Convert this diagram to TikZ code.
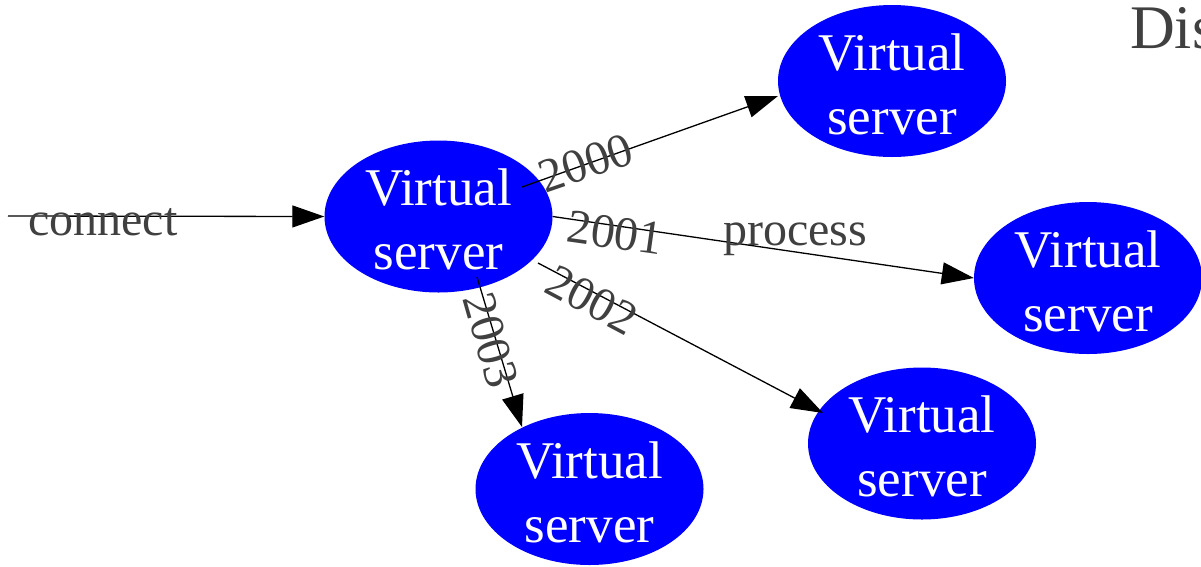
\documentclass[tikz,border=0pt]{standalone}
\usepackage{fontspec}
\setmainfont{Liberation Serif}
\usetikzlibrary{arrows.meta,shapes.geometric,calc}
\definecolor{lblgray}{HTML}{404040}
\tikzset{
  vs/.style={ellipse, fill={rgb,255:red,0;green,0;blue,255}, draw=none, inner sep=0pt,
    minimum width=228pt, minimum height=152pt, text=white, align=center,
    text height=106pt, text depth=0pt,
    font=\fontsize{53}{64}\selectfont},
  conn/.style={line width=1.3pt, -{Triangle[length=32pt,width=22pt]}},
  lbl/.style={text=lblgray, inner sep=0pt, font=\fontsize{48}{58}\selectfont},
}
\begin{document}
\begin{tikzpicture}[x=1pt,y=-1pt]
\useasboundingbox (0,0) rectangle (1201,566);
\clip (0,0) rectangle (1201,566);
\node[vs] (c) at (438.5,216.5) {Virtual\\server};
\node[vs] (t1) at (892,81) {Virtual\\server};
\node[vs] (t2) at (1088,278) {Virtual\\server};
\node[vs] (t3) at (922,443.5) {Virtual\\server};
\node[vs] (t4) at (589.5,489) {Virtual\\server};
\coordinate (in) at (8,216);
\draw[conn] (in) -- (c.west);
\draw[conn] ($(c.center)+(83.5,-29.5)$) -- ($(t1.center)+(-114,15)$);
\draw[conn] (c.east) -- (t2.west);
\draw[conn] ($(c.center)+(99.5,46.5)$) -- ($(t3.center)+(-99,-30.5)$);
\draw[conn] ($(c.center)+(38.5,60.5)$) -- ($(t4.center)+(-67.5,-62)$);
\node[lbl, anchor=base west] (lconnect) at (28,235) {connect};
\node[lbl, anchor=base west] (lprocess) at (723,245) {process};
\node[lbl, rotate=19] (l2000) at (586,163) {2000};
\node[lbl, rotate=-8] (l2001) at (615,233) {2001};
\node[lbl, rotate=-28] (l2002) at (592,300) {2002};
\node[lbl, rotate=-74] (l2003) at (491,340) {2003};
\node[lbl, anchor=base west, font=\fontsize{62}{74}\selectfont] (ltitle) at (1130,48) {Dis};
\end{tikzpicture}
\end{document}
